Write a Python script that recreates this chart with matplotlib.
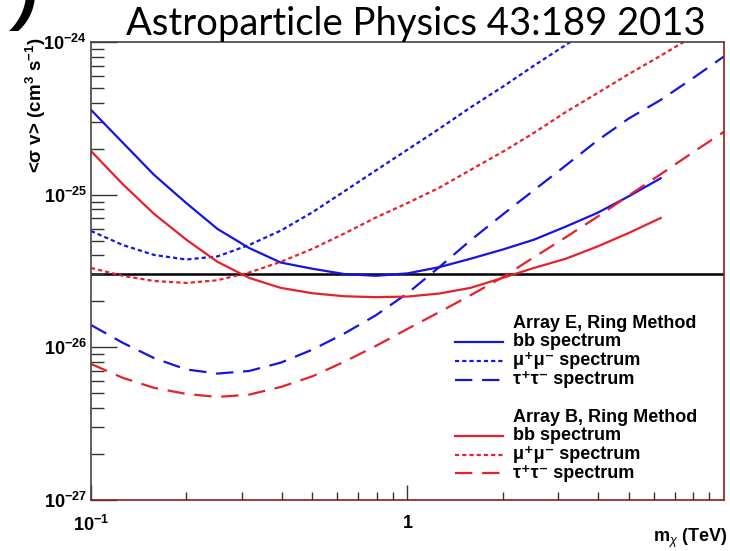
import math

import matplotlib
matplotlib.use('agg')
from matplotlib import pyplot as plt
from matplotlib.ticker import LogLocator, FixedLocator, NullFormatter, FuncFormatter

plt.rcParams['font.family'] = ['Liberation Sans', 'DejaVu Sans']
plt.rcParams['mathtext.fontset'] = 'custom'
plt.rcParams['mathtext.rm'] = 'Liberation Sans'
plt.rcParams['mathtext.it'] = 'Liberation Sans:italic'
plt.rcParams['mathtext.bf'] = 'Liberation Sans:bold'
plt.rcParams['lines.scale_dashes'] = False

# dark matter mass grid (TeV), every curve is sampled on its first N points
mass = [0.100, 0.126, 0.158, 0.200, 0.251, 0.316, 0.398, 0.501, 0.631, 0.794, 1.00,
        1.26, 1.58, 2.00, 2.51, 3.16, 3.98, 5.01, 6.31, 7.94, 10.0]

# Array E, Ring Method (cm^3 s^-1)
sv_e_bb = [3.59e-25, 2.19e-25, 1.35e-25, 8.81e-26, 5.96e-26, 4.47e-26, 3.59e-26, 3.27e-26,
           3.02e-26, 2.94e-26, 3.05e-26, 3.35e-26, 3.80e-26, 4.37e-26, 5.07e-26, 6.17e-26,
           7.59e-26, 9.77e-26, 1.28e-25]
sv_e_mumu = [5.78e-26, 4.68e-26, 4.03e-26, 3.76e-26, 3.94e-26, 4.68e-26, 5.82e-26, 7.67e-26,
             1.05e-25, 1.44e-25, 1.97e-25, 2.70e-25, 3.72e-25, 5.09e-25, 7.00e-25, 9.55e-25,
             1.31e-24]
sv_e_tautau = [1.40e-26, 1.07e-26, 8.51e-27, 7.16e-27, 6.73e-27, 7.00e-27, 7.94e-27, 9.66e-27,
               1.23e-26, 1.62e-26, 2.26e-26, 3.35e-26, 5.01e-26, 7.41e-26, 1.07e-25, 1.55e-25,
               2.26e-25, 3.16e-25, 4.17e-25, 5.75e-25, 8.04e-25]

# Array B, Ring Method (cm^3 s^-1)
sv_b_bb = [1.93e-25, 1.17e-25, 7.50e-26, 5.07e-26, 3.63e-26, 2.85e-26, 2.45e-26, 2.26e-26,
           2.16e-26, 2.13e-26, 2.15e-26, 2.25e-26, 2.45e-26, 2.85e-26, 3.31e-26, 3.80e-26,
           4.57e-26, 5.62e-26, 7.03e-26]
sv_b_mumu = [3.31e-26, 2.94e-26, 2.72e-26, 2.64e-26, 2.75e-26, 3.09e-26, 3.63e-26, 4.42e-26,
             5.56e-26, 7.08e-26, 8.81e-26, 1.11e-25, 1.45e-25, 1.91e-25, 2.54e-25, 3.47e-25,
             4.62e-25, 6.17e-25, 8.13e-25, 1.08e-24]
sv_b_tautau = [7.78e-27, 6.31e-27, 5.43e-27, 4.95e-27, 4.73e-27, 4.90e-27, 5.50e-27, 6.46e-27,
               8.04e-27, 1.02e-26, 1.32e-26, 1.70e-26, 2.19e-26, 2.88e-26, 3.89e-26, 5.25e-26,
               7.16e-26, 9.89e-26, 1.36e-25, 1.88e-25, 2.58e-25]

thermal_sv = 3.0e-26

blue = '#1414e6'
red = '#e8202a'
dotted = (0, (3.0, 2.2))
dashed = (0, (12.5, 7.0))
lw = 1.6

series = [
    (sv_e_bb, blue, '-'),
    (sv_e_mumu, blue, dotted),
    (sv_e_tautau, blue, dashed),
    (sv_b_bb, red, '-'),
    (sv_b_mumu, red, dotted),
    (sv_b_tautau, red, dashed),
]

fig = plt.figure(figsize=(7.3, 5.51), dpi=100)
ax = fig.add_axes([0.1247, 0.0926, 0.867, 0.8312])

ax.axhline(thermal_sv, color='black', lw=1.8, zorder=1)
for sv, color, ls in series:
    ax.plot(mass[:len(sv)], sv, color=color, lw=lw, ls=ls)

ax.set_xscale('log')
ax.set_yscale('log')
ax.set_xlim(0.1, 10.0)
ax.set_ylim(1e-27, 1e-24)

# ROOT-like frame and ticks
for side in ['left', 'top']:
    ax.spines[side].set_color('#444444')
for side in ['bottom', 'right']:
    ax.spines[side].set_color('#8c1c1c')
for s in ax.spines.values():
    s.set_linewidth(1.2)

ax.xaxis.set_major_locator(FixedLocator([0.1, 1.0]))
ax.xaxis.set_minor_locator(LogLocator(base=10, subs=range(2, 10)))
ax.xaxis.set_minor_formatter(NullFormatter())
ax.yaxis.set_major_locator(FixedLocator([1e-27, 1e-26, 1e-25, 1e-24]))
ax.yaxis.set_minor_locator(LogLocator(base=10, subs=range(2, 10)))
ax.yaxis.set_minor_formatter(NullFormatter())


def x_label(v, pos):
    if abs(v - 1.0) < 1e-9:
        return r'$\mathbf{1}$'
    return r'$\mathbf{10^{%d}}$' % round(math.log10(v))


def y_label(v, pos):
    return r'$\mathbf{10^{%d}}$' % round(math.log10(v))


ax.xaxis.set_major_formatter(FuncFormatter(x_label))
ax.yaxis.set_major_formatter(FuncFormatter(y_label))
ax.tick_params(axis='both', which='both', direction='in', color='#333333', width=1.0)
ax.tick_params(axis='x', which='major', length=11, labelsize=13, pad=11)
ax.tick_params(axis='x', which='minor', length=6)
ax.tick_params(axis='y', which='major', length=19, labelsize=13, pad=3)
ax.tick_params(axis='y', which='minor', length=9)

ax.set_ylabel(r'<σ v> (cm$^{\mathbf{3}}$ s$^{\mathbf{-1}}$)', fontsize=13.5, fontweight='bold',
              loc='top')
ax.yaxis.set_label_coords(-0.068, 1.01)
ax.set_xlabel(r'm$_{\chi}$ (TeV)', fontsize=13, fontweight='bold', loc='right')
ax.xaxis.set_label_coords(1.005, -0.058)

# legend drawn as two blocks: header line followed by three spectra
legend_rows = [
    (0.386, 'Array E, Ring Method', None, None),
    (0.345, 'bb spectrum', blue, '-'),
    (0.304, 'μ⁺μ⁻ spectrum', blue, dotted),
    (0.263, 'τ⁺τ⁻ spectrum', blue, dashed),
    (0.181, 'Array B, Ring Method', None, None),
    (0.140, 'bb spectrum', red, '-'),
    (0.099, 'μ⁺μ⁻ spectrum', red, dotted),
    (0.058, 'τ⁺τ⁻ spectrum', red, dashed),
]
for y, text, color, ls in legend_rows:
    if color is not None:
        ax.plot([0.575, 0.651], [y, y], transform=ax.transAxes, color=color, lw=lw, ls=ls)
    ax.text(0.667, y, text, transform=ax.transAxes, fontsize=13, fontweight='bold',
            ha='left', va='center')

fig.text(0.570, 1 - 35 / 551, 'Astroparticle Physics 43:189 2013', fontsize=27.5, family='Lato',
         ha='center', va='baseline')
fig.text(0.035, 1.0, ')', fontsize=48, fontweight='bold', style='italic', ha='center', va='center')

fig.savefig('out.png', dpi=100)
